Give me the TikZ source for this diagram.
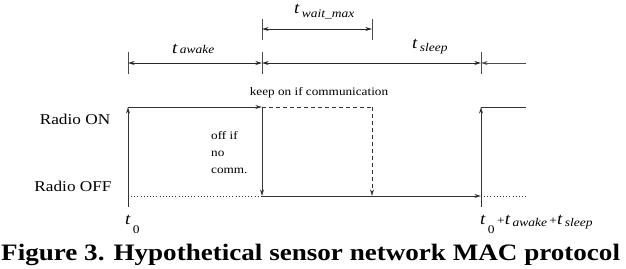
\documentclass[tikz,border=0pt]{standalone}
\usepackage{fontspec}
\setmainfont[FakeStretch=1.15]{Liberation Serif}
\usetikzlibrary{arrows.meta, positioning}
\newcommand{\bigtext}{\fontsize{12.8}{15}\selectfont}
\newcommand{\smalltext}{\fontsize{9.8}{14.5}\selectfont}
\newcommand{\subtext}{\fontsize{10}{12}\selectfont}
\newcommand{\tsub}[2]{{\fontsize{14}{15}\selectfont\itshape t}\,\raisebox{-#1}{\subtext\itshape #2}}
\tikzset{
  sig/.style={line width=0.7pt, draw=black!80},
  dim/.style={line width=0.6pt, draw=black!85, {Stealth[open,length=2mm,width=1.2mm]}-{Stealth[open,length=2mm,width=1.2mm]}},
  tick/.style={line width=0.6pt, draw=black!70},
  arrow/.style={-{Stealth[open,length=2mm,width=1.2mm]}}
}
\begin{document}
\begin{tikzpicture}[x=0.03cm, y=-0.03cm, every node/.style={inner sep=0pt, font=\bigtext}]
        \useasboundingbox (0,0) rectangle (626,268);

        % time marks on the dimension lines
        \coordinate (a0) at (128,63);
        \coordinate (a1) at (262,63);
        \coordinate (a2) at (481,63);
        \coordinate (a3) at (526,63);
        \coordinate (w0) at (262,29);
        \coordinate (w1) at (372,29);

        % radio levels
        \coordinate (on0) at (128,107);
        \coordinate (on1) at (262,107);
        \coordinate (on2) at (372,107);
        \coordinate (on3) at (481,107);
        \coordinate (on4) at (526,107);
        \coordinate (off0) at (128,196);
        \coordinate (off1) at (262,196);
        \coordinate (off2) at (372,196);
        \coordinate (off3) at (481,196);
        \coordinate (off4) at (526,196);
        \coordinate (b0) at (128,207);
        \coordinate (b3) at (481,207);

        % ticks
        \draw [tick] (128,52) -- (128,74);
        \draw [tick] (262,19) -- (262,40);
        \draw [tick] (262,52) -- (262,74);
        \draw [tick] (372,19) -- (372,40);
        \draw [tick] (481,52) -- (481,74);

        % dimension arrows
        \draw [dim] (a0) -- (a1);
        \draw [dim] (a1) -- (a2);
        \draw [tick, arrow] (a3) -- (a2);
        \draw [dim] (w0) -- (w1);

        \node (tawake) [anchor=base west] at (172,53) {\tsub{0pt}{awake}};
        \node (twait) [anchor=base west] at (294,13) {\tsub{4pt}{wait\_max}};
        \node (tsleep) [anchor=base west] at (412,48) {\tsub{3pt}{sleep}};

        % signal
        \draw [sig, arrow] (b0) -- (on0);
        \draw [sig, arrow] (on0) -- (on1);
        \draw [sig, arrow] (on1) -- (off1);
        \draw [sig, arrow] (off1) -- (off3);
        \draw [sig, arrow] (b3) -- (on3);
        \draw [sig] (on3) -- (on4);
        \draw [sig, dashed] (on1) -- (on2);
        \draw [sig, dashed, arrow] (on2) -- (off2);
        \draw [sig, dotted] (off0) -- (off1);
        \draw [sig, dotted] (off3) -- (off4);

        \node (radioon) at (75,119) {Radio ON};
        \node (radiooff) at (73,186) {Radio OFF};
        \node (keepon) [font=\smalltext] at (319,93) {keep on if communication};
        \node (offif) [font=\smalltext, align=left, anchor=north west] at (211,131) {off if\\no\\comm.};

        % time axis labels
        \node (tzero) [anchor=base west] at (125,224) {\tsub{8pt}{\upshape 0}};
        \node (tend) [anchor=base west] at (480,224) {\tsub{8pt}{\upshape 0}\,{\subtext+}\tsub{2pt}{awake}\,{\subtext+}\tsub{2pt}{sleep}};

        \node (caption) [anchor=base west, font=\fontsize{20.1}{22}\selectfont\bfseries] at (1,260) {Figure 3. Hypothetical sensor network MAC protocol};
\end{tikzpicture}
\end{document}
